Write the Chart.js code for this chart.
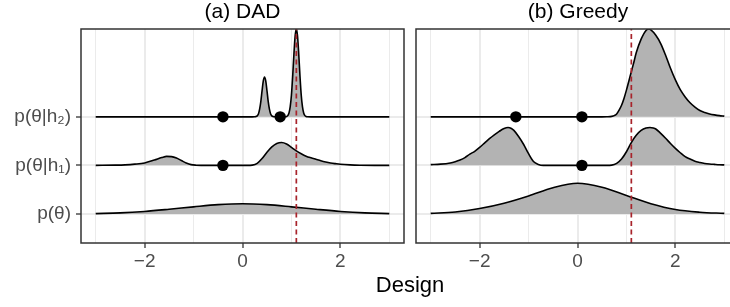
<!DOCTYPE html>
<html>
<head>
<meta charset="utf-8">
<script src="https://cdn.jsdelivr.net/npm/chart.js@4.4.1/dist/chart.umd.min.js"></script>
<style>
  html, body { margin:0; padding:0; width:730px; height:307px; overflow:hidden; background:#fff; }
  #wrap { position:relative; width:730px; height:307px; overflow:hidden; font-family:'Liberation Sans', Arial, Helvetica, sans-serif; }
  canvas { position:absolute; top:0; }
  #c1 { left:0; }
  #c2 { left:406px; }
  .t { position:absolute; white-space:nowrap; color:#000; transform:translateX(-50%); line-height:21px; }
</style>
</head>
<body>
<div id="wrap">
  <canvas id="c1" width="415" height="307"></canvas>
  <canvas id="c2" width="340" height="307"></canvas>
  <div class="t" style="left:242.5px; top:0px; font-size:21px;">(a) DAD</div>
  <div class="t" style="left:578px; top:0px; font-size:21px;">(b) Greedy</div>
  <div class="t" style="left:410px; top:274px; font-size:22px; line-height:22px;">Design</div>
</div>
<script>
// ---------- axes ----------
const X_MIN = -3.3, X_MAX = 3.3;
const xGrid = [-3, -2, -1, 0, 1, 2, 3];
const xMajor = [-2, 0, 2];
const xTickLabels = ['\u22122', '0', '2'];
const Y_MIN = 0.4, Y_MAX = 4.81;
const rowPositions = [1, 2, 3];
const rowLabels = ['p(\u03B8)', 'p(\u03B8|h\u2081)', 'p(\u03B8|h\u2082)'];
const designValue = 1.1;

// ---------- (a) DAD ----------
const dadPriorX = [-3, -2.5, -2, -1.5, -1, -0.5, 0, 0.5, 1, 1.5, 2, 2.5, 3];
const dadPriorH = [0.006, 0.02, 0.05, 0.095, 0.145, 0.19, 0.21, 0.19, 0.145, 0.095, 0.05, 0.02, 0.006];

const dadH1X = [-3, -2.6, -2.4, -2.2, -2.0, -1.8, -1.65, -1.55, -1.45, -1.35, -1.25, -1.15, -1.05, -0.95, -0.85,
                0.1, 0.2, 0.3, 0.4, 0.5, 0.6, 0.7, 0.8, 0.9, 1.0, 1.1, 1.2, 1.3, 1.4, 1.5, 1.6, 1.7, 1.8, 1.9, 2.0, 2.2, 2.4, 2.7, 3];
const dadH1H = [0, 0.004, 0.01, 0.025, 0.05, 0.11, 0.16, 0.185, 0.18, 0.15, 0.10, 0.05, 0.015, 0.003, 0,
                0, 0.005, 0.04, 0.14, 0.27, 0.38, 0.45, 0.47, 0.44, 0.37, 0.30, 0.24, 0.19, 0.155, 0.125, 0.095, 0.07, 0.05, 0.035, 0.022, 0.009, 0.003, 0, 0];

const dadH2X = [-3, -1, 0, 0.2, 0.25, 0.275, 0.3, 0.325, 0.35, 0.375, 0.4, 0.425, 0.45, 0.475, 0.5, 0.525, 0.55, 0.575, 0.6, 0.625, 0.65,
                0.8, 0.875, 0.9, 0.925, 0.95, 0.975, 1.0, 1.025, 1.05, 1.075, 1.1, 1.125, 1.15, 1.175, 1.2, 1.225, 1.25, 1.275, 1.3, 1.325, 1.4, 2, 3];
const dadH2H = [0, 0, 0, 0, 0.001, 0.005, 0.02, 0.06, 0.16, 0.32, 0.54, 0.74, 0.82, 0.74, 0.54, 0.32, 0.16, 0.06, 0.02, 0.005, 0.001,
                0, 0.002, 0.007, 0.025, 0.08, 0.21, 0.45, 0.83, 1.28, 1.66, 1.81, 1.66, 1.28, 0.83, 0.45, 0.21, 0.08, 0.025, 0.007, 0.002, 0, 0, 0];

const dadDotX = [-0.40, 0.77, -0.40];
const dadDotRow = [3, 3, 2];

// ---------- (b) Greedy ----------
const grPriorX = [-3, -2.5, -2, -1.5, -1, -0.5, 0, 0.5, 1, 1.5, 2, 2.5, 3];
const grPriorH = [0.01, 0.04, 0.11, 0.22, 0.37, 0.54, 0.63, 0.55, 0.38, 0.21, 0.09, 0.035, 0.01];

const grH1X = [-3, -2.8, -2.6, -2.5, -2.4, -2.3, -2.2, -2.1, -2.0, -1.9, -1.8, -1.7, -1.6, -1.5, -1.42, -1.35, -1.3, -1.2, -1.1, -1.0, -0.9, -0.8, -0.7,
               0.6, 0.7, 0.8, 0.9, 1.0, 1.1, 1.2, 1.3, 1.4, 1.48, 1.55, 1.6, 1.7, 1.8, 1.9, 2.0, 2.1, 2.2, 2.3, 2.4, 2.5, 2.6, 2.7, 2.8, 2.9, 3.0];
const grH1H = [0.015, 0.025, 0.05, 0.075, 0.11, 0.16, 0.23, 0.29, 0.37, 0.46, 0.55, 0.63, 0.70, 0.76, 0.78, 0.76, 0.72, 0.59, 0.43, 0.24, 0.08, 0.02, 0,
               0, 0.004, 0.04, 0.13, 0.28, 0.47, 0.62, 0.72, 0.77, 0.78, 0.77, 0.75, 0.66, 0.56, 0.45, 0.35, 0.26, 0.18, 0.13, 0.085, 0.06, 0.04, 0.028, 0.02, 0.013, 0.01];

const grH2X = [-3, 0, 0.5, 0.6, 0.7, 0.75, 0.8, 0.85, 0.9, 0.95, 1.0, 1.05, 1.1, 1.15, 1.2, 1.3, 1.4, 1.46, 1.5, 1.6, 1.7, 1.8, 1.9, 2.0,
               2.1, 2.2, 2.3, 2.4, 2.5, 2.6, 2.7, 2.8, 2.9, 3.0];
const grH2H = [0, 0, 0, 0.002, 0.01, 0.025, 0.06, 0.14, 0.24, 0.38, 0.55, 0.74, 0.93, 1.12, 1.32, 1.6, 1.78, 1.81, 1.79, 1.68, 1.51, 1.27, 1.0, 0.76,
               0.56, 0.41, 0.29, 0.2, 0.13, 0.09, 0.06, 0.04, 0.025, 0.015];

const grDotX = [-1.26, 0.09, 0.09];
const grDotRow = [3, 3, 2];

// ---------- chart building ----------
const FAMILY = "'Liberation Sans', Arial, Helvetica, sans-serif";

const panelBorder = {
  id: 'panelBorder',
  afterDatasetsDraw(chart) {
    const { ctx, chartArea: a } = chart;
    ctx.save();
    ctx.strokeStyle = '#333333';
    ctx.lineWidth = 1.5;
    ctx.strokeRect(a.left, a.top, a.right - a.left, a.bottom - a.top);
    ctx.restore();
  }
};

function ridge(xs, hs, row) {
  return {
    type: 'line',
    data: xs.map((x, i) => ({ x: x, y: row + hs[i] })),
    borderColor: '#000000',
    borderWidth: 1.6,
    backgroundColor: '#B3B3B3',
    fill: { value: row },
    pointRadius: 0,
    cubicInterpolationMode: 'monotone'
  };
}

function makeChart(id, ridges, dotX, dotRow, showY, padding) {
  const datasets = [
    {
      type: 'line',
      data: dotX.map((x, i) => ({ x: x, y: dotRow[i] })),
      showLine: false,
      pointRadius: 5.7,
      pointHoverRadius: 5.7,
      pointBackgroundColor: '#000000',
      pointBorderWidth: 0,
      borderColor: '#000000'
    },
    {
      type: 'line',
      data: [{ x: designValue, y: Y_MIN }, { x: designValue, y: Y_MAX }],
      borderColor: '#A8232B',
      borderWidth: 1.7,
      borderDash: [5, 3.5],
      pointRadius: 0,
      fill: false
    }
  ].concat(ridges.map(r => ridge(r.x, r.h, r.row)));

  return new Chart(document.getElementById(id), {
    type: 'line',
    data: { datasets: datasets },
    plugins: [panelBorder],
    options: {
      responsive: false,
      animation: false,
      events: [],
      layout: { padding: padding },
      plugins: { legend: { display: false }, tooltip: { enabled: false }, title: { display: false } },
      scales: {
        x: {
          type: 'linear',
          min: X_MIN, max: X_MAX,
          afterBuildTicks: s => { s.ticks = xGrid.map(v => ({ value: v })); },
          afterFit: s => { s.height = 64; },
          border: { display: false },
          grid: {
            color: '#EBEBEB',
            lineWidth: c => (c.tick && xMajor.includes(c.tick.value)) ? 2 : 1,
            tickColor: c => (c.tick && xMajor.includes(c.tick.value)) ? '#333333' : 'rgba(0,0,0,0)',
            tickLength: 5,
            tickWidth: 1.3
          },
          ticks: {
            autoSkip: false, maxRotation: 0, minRotation: 0,
            padding: 2,
            color: '#4D4D4D',
            font: { family: FAMILY, size: 19 },
            callback: v => { const i = xMajor.indexOf(v); return i >= 0 ? xTickLabels[i] : ''; }
          }
        },
        y: {
          type: 'linear',
          min: Y_MIN, max: Y_MAX,
          afterBuildTicks: s => { s.ticks = rowPositions.map(v => ({ value: v })); },
          afterFit: s => { s.width = showY ? 81 : 0; },
          border: { display: false },
          grid: {
            color: '#EBEBEB',
            lineWidth: 2,
            drawTicks: showY,
            tickColor: '#333333',
            tickLength: 5,
            tickWidth: 1.3
          },
          ticks: {
            display: showY,
            padding: 5,
            color: '#4D4D4D',
            font: { family: FAMILY, size: 19 },
            callback: (v, i) => rowLabels[i]
          }
        }
      }
    }
  });
}

makeChart('c1', [
  { x: dadPriorX, h: dadPriorH, row: 1 },
  { x: dadH1X, h: dadH1H, row: 2 },
  { x: dadH2X, h: dadH2H, row: 3 }
], dadDotX, dadDotRow, true, { left: 0, right: 11, top: 29, bottom: 0 });

makeChart('c2', [
  { x: grPriorX, h: grPriorH, row: 1 },
  { x: grH1X, h: grH1H, row: 2 },
  { x: grH2X, h: grH2H, row: 3 }
], grDotX, grDotRow, false, { left: 10, right: 7, top: 29, bottom: 0 });
</script>
</body>
</html>
